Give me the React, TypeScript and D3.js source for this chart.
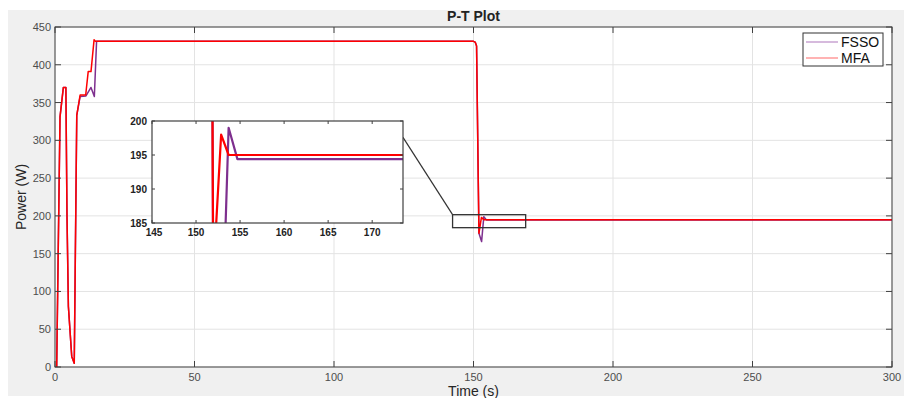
import * as d3 from "d3";

// Time (s) / Power (W)
const timeFSSO = [0.6, 1.8, 3.0, 3.9, 4.3, 4.8, 6.0, 6.9, 7.8, 9.0, 11.1, 12.9, 14.1, 14.9, 150, 150.6, 151.1, 151.95, 152.9, 153.7, 154.7, 300];
const powerFSSO = [0, 331, 370, 370, 200, 80, 14, 5, 333, 358, 358.7, 370, 358, 431, 431, 430, 425, 177, 166, 199, 194.4, 194.4];

const timeMFA = [0.6, 1.8, 3.0, 3.9, 4.3, 4.8, 6.0, 6.9, 7.8, 9.0, 11.0, 11.9, 12.9, 14.0, 14.5, 150, 150.6, 151.1, 151.95, 152.85, 153.7, 300];
const powerMFA = [0, 331, 370, 370, 200, 80, 14, 5, 333, 360, 360, 391, 391, 433, 431, 431, 430, 425, 177, 198, 195, 195];

const xTicks = [0, 50, 100, 150, 200, 250, 300];
const yTicks = [0, 50, 100, 150, 200, 250, 300, 350, 400, 450];
const insetXTicks = [145, 150, 155, 160, 165, 170];
const insetYTicks = [185, 190, 195, 200];

// zoomed region in main plot data units
const zoomT = [142.5, 168.7];
const zoomP = [184.4, 201.6];

const W = 906;
const H = 398;
const FONT = "'Liberation Sans', Arial, Helvetica, sans-serif";
const PURPLE = "#7e2f8e";
const RED = "#ff0000";

export default function App() {
  const left = 55, right = 892, top = 27, bottom = 367;
  const x = d3.scaleLinear().domain([0, 300]).range([left, right]);
  const y = d3.scaleLinear().domain([0, 450]).range([bottom, top]);

  // inset
  const iL = 152, iR = 403, iT = 121, iB = 223;
  const ix = d3.scaleLinear().domain([145, 173.5]).range([iL, iR]);
  const iy = d3.scaleLinear().domain([185, 200]).range([iB, iT]);

  const mainLine = (ts: number[], ps: number[]) =>
    d3.line<number>().x((_, i) => x(ts[i])).y((p) => y(p))(ps) || "";
  const insetLine = (ts: number[], ps: number[]) =>
    d3.line<number>().x((_, i) => ix(ts[i])).y((p) => iy(p))(ps) || "";

  const axisColor = "#404040";
  const labelColor = "#4d4d4d";
  const gridColor = "#e3e3e3";
  const tk = 6;

  return (
    <svg width={W} height={H} style={{ position: "absolute", left: 0, top: 0 }} fontFamily={FONT}>
      <defs>
        <clipPath id="mainClip">
          <rect x={left} y={top} width={right - left} height={bottom - top} />
        </clipPath>
        <clipPath id="insetClip">
          <rect x={iL} y={iT} width={iR - iL} height={iB - iT} />
        </clipPath>
      </defs>
      <rect x={0} y={0} width={W} height={H} fill="#ffffff" />
      <rect x={8} y={10} width={896} height={386} fill="#f0f0f0" />
      <rect x={left} y={top} width={right - left} height={bottom - top} fill="#ffffff" />

      {/* grid */}
      {xTicks.map((t) => (
        <line key={"gx" + t} x1={x(t)} x2={x(t)} y1={top} y2={bottom} stroke={gridColor} />
      ))}
      {yTicks.map((t) => (
        <line key={"gy" + t} x1={left} x2={right} y1={y(t)} y2={y(t)} stroke={gridColor} />
      ))}

      {/* series */}
      <g clipPath="url(#mainClip)" fill="none" strokeWidth={1.5} strokeLinejoin="round">
        <path d={mainLine(timeFSSO, powerFSSO)} stroke={PURPLE} />
        <path d={mainLine(timeMFA, powerMFA)} stroke={RED} />
      </g>

      {/* zoom rectangle + connector */}
      <rect
        x={x(zoomT[0])}
        y={y(zoomP[1])}
        width={x(zoomT[1]) - x(zoomT[0])}
        height={y(zoomP[0]) - y(zoomP[1])}
        fill="none"
        stroke="#333"
        strokeWidth={1.3}
      />
      <line x1={iR} y1={iy(197.6)} x2={x(zoomT[0])} y2={y(zoomP[1])} stroke="#333" strokeWidth={1.2} />

      {/* ticks main */}
      <g stroke={axisColor}>
        {xTicks.map((t) => (
          <g key={"tx" + t}>
            <line x1={x(t)} x2={x(t)} y1={bottom} y2={bottom - tk} />
            <line x1={x(t)} x2={x(t)} y1={top} y2={top + tk} />
          </g>
        ))}
        {yTicks.map((t) => (
          <g key={"ty" + t}>
            <line x1={left} x2={left + tk} y1={y(t)} y2={y(t)} />
            <line x1={right} x2={right - tk} y1={y(t)} y2={y(t)} />
          </g>
        ))}
      </g>
      <rect x={left} y={top} width={right - left} height={bottom - top} fill="none" stroke={axisColor} />

      {/* tick labels */}
      {xTicks.map((t) => (
        <text key={"lx" + t} x={x(t)} y={bottom + 14} fontSize={11} fill={labelColor} textAnchor="middle">
          {t}
        </text>
      ))}
      {yTicks.map((t) => (
        <text key={"ly" + t} x={left - 4} y={y(t) + 4} fontSize={11} fill={labelColor} textAnchor="end">
          {t}
        </text>
      ))}

      <text x={(left + right) / 2} y={21} fontSize={14} fontWeight="bold" fill="#222" textAnchor="middle">
        P-T Plot
      </text>
      <text x={(left + right) / 2} y={396} fontSize={14} fill="#262626" textAnchor="middle">
        Time (s)
      </text>
      <text
        transform={`translate(26,${(top + bottom) / 2}) rotate(-90)`}
        fontSize={14}
        fill="#262626"
        textAnchor="middle"
      >
        Power (W)
      </text>

      {/* inset */}
      <rect x={iL} y={iT} width={iR - iL} height={iB - iT} fill="#ffffff" />
      <g clipPath="url(#insetClip)" fill="none" strokeWidth={2.2} strokeLinejoin="round">
        <path d={insetLine(timeFSSO, powerFSSO)} stroke={PURPLE} />
        <path d={insetLine(timeMFA, powerMFA)} stroke={RED} />
      </g>
      <g stroke={axisColor}>
        {insetXTicks.map((t) => (
          <g key={"itx" + t}>
            <line x1={ix(t)} x2={ix(t)} y1={iB} y2={iB - 3} />
            <line x1={ix(t)} x2={ix(t)} y1={iT} y2={iT + 3} />
          </g>
        ))}
        {insetYTicks.map((t) => (
          <g key={"ity" + t}>
            <line x1={iL} x2={iL + 3} y1={iy(t)} y2={iy(t)} />
            <line x1={iR} x2={iR - 3} y1={iy(t)} y2={iy(t)} />
          </g>
        ))}
      </g>
      <rect x={iL} y={iT} width={iR - iL} height={iB - iT} fill="none" stroke={axisColor} strokeWidth={1.2} />
      {insetXTicks.map((t) => (
        <text key={"ilx" + t} x={ix(t) + (t === 145 ? 2 : 0)} y={iB + 13} fontSize={10} fontWeight="bold" fill="#222" textAnchor="middle">
          {t}
        </text>
      ))}
      {insetYTicks.map((t) => (
        <text key={"ily" + t} x={iL - 5} y={iy(t) + 4} fontSize={10} fontWeight="bold" fill="#222" textAnchor="end">
          {t}
        </text>
      ))}

      {/* legend */}
      <g>
        <rect x={803} y={33} width={80} height={33} fill="#ffffff" stroke="#333" />
        <line x1={806} x2={838} y1={42} y2={42} stroke="#c9a3d2" strokeWidth={1.5} />
        <text x={841} y={47} fontSize={14} fill="#111">FSSO</text>
        <line x1={806} x2={838} y1={58} y2={58} stroke="#ff9a9a" strokeWidth={1.5} />
        <text x={841} y={63} fontSize={14} fill="#111">MFA</text>
      </g>
    </svg>
  );
}
